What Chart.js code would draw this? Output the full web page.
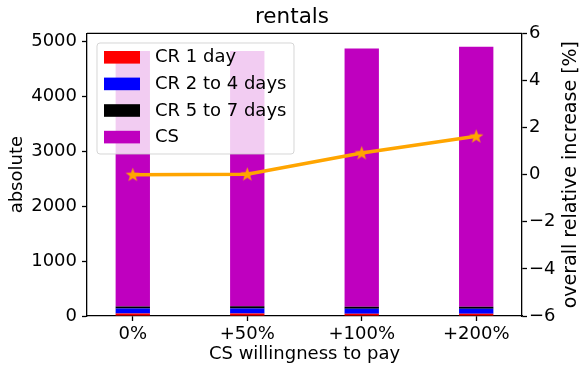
<!DOCTYPE html>
<html><head><meta charset="utf-8">
<script src="https://cdn.jsdelivr.net/npm/chart.js@4.4.1/dist/chart.umd.min.js"></script>
<style>html,body{margin:0;padding:0;background:#fff}#wrap{width:584px;height:366px}</style>
</head><body><div id="wrap"><canvas id="c" width="584" height="366"></canvas></div>
<script>
// ---- data ----
const categories = ['0%', '+50%', '+100%', '+200%'];
const cr1Day = [45, 45, 42, 42];
const cr2to4Days = [90, 92, 90, 90];
const cr5to7Days = [38, 40, 36, 38];
const csRentals = [4657, 4655, 4707, 4739];
const relativeIncrease = [0.0, 0.02, 0.92, 1.63];
const leftTicks = [0, 1000, 2000, 3000, 4000, 5000];
const rightTicks = [-6, -4, -2, 0, 2, 4, 6];
const seriesLabels = ['CR 1 day', 'CR 2 to 4 days', 'CR 5 to 7 days', 'CS'];

const F = 'DejaVu Sans';
const COLORS = ['#ff0000', '#0000ff', '#000000', '#bf00bf'];

function xy(arr) { return arr.map((v, i) => ({ x: i, y: v })); }

function makeStar(r, color) {
  const s = Math.ceil(r * 2 + 2);
  const c = document.createElement('canvas');
  c.width = s; c.height = s;
  const g = c.getContext('2d');
  g.translate(s / 2, s / 2 + 0.5);
  g.beginPath();
  for (let i = 0; i < 10; i++) {
    const rad = i % 2 === 0 ? r : r * 0.4;
    const a = -Math.PI / 2 + i * Math.PI / 5;
    g.lineTo(rad * Math.cos(a), rad * Math.sin(a));
  }
  g.closePath();
  g.fillStyle = color; g.fill();
  return c;
}
const star = makeStar(7.5, '#ffa500');

const axisBase = () => ({
  border: { display: true, color: '#000', width: 1.3 },
  grid: { display: true, offset: false, drawOnChartArea: false, drawTicks: true, tickLength: 5, tickColor: '#000', tickWidth: 1.3 },
  ticks: { color: '#000', font: { family: F, size: 18 } }
});

const frameAndLegend = {
  id: 'frameAndLegend',
  afterDraw(chart) {
    const ctx = chart.ctx, a = chart.chartArea;
    ctx.save();
    ctx.strokeStyle = '#000'; ctx.lineWidth = 1.3;
    ctx.beginPath(); ctx.moveTo(a.left, a.top); ctx.lineTo(a.right, a.top); ctx.stroke();
    ctx.fillStyle = '#000';
    ctx.font = '19px "' + F + '"';
    ctx.textAlign = 'center'; ctx.textBaseline = 'middle';
    ctx.translate(571, (a.top + a.bottom) / 2);
    ctx.rotate(-Math.PI / 2);
    ctx.fillText('overall relative increase [%]', 0, 0);
    ctx.restore();

    ctx.save();
    const lx = 97, ly = 43, lw = 197, lh = 111, r = 3;
    ctx.beginPath();
    ctx.moveTo(lx + r, ly);
    ctx.arcTo(lx + lw, ly, lx + lw, ly + lh, r);
    ctx.arcTo(lx + lw, ly + lh, lx, ly + lh, r);
    ctx.arcTo(lx, ly + lh, lx, ly, r);
    ctx.arcTo(lx, ly, lx + lw, ly, r);
    ctx.closePath();
    ctx.fillStyle = 'rgba(255,255,255,0.8)';
    ctx.fill();
    ctx.strokeStyle = 'rgba(204,204,204,0.8)'; ctx.lineWidth = 1;
    ctx.stroke();
    ctx.font = '18px "' + F + '"';
    ctx.textAlign = 'left'; ctx.textBaseline = 'middle';
    seriesLabels.forEach((lab, i) => {
      const cy = 57.3 + i * 26.6;
      ctx.fillStyle = COLORS[i];
      ctx.fillRect(104, cy - 6.3, 36, 12.6);
      ctx.fillStyle = '#000';
      ctx.fillText(lab, 155, cy + 0.5);
    });
    ctx.restore();
  }
};

const barValues = [cr1Day, cr2to4Days, cr5to7Days, csRentals];
const minus = v => (v < 0 ? '\u2212' + Math.abs(v) : String(v));

new Chart(document.getElementById('c'), {
  type: 'bar',
  data: {
    datasets: [
      {
        type: 'line', label: 'overall relative increase', data: xy(relativeIncrease), yAxisID: 'y2',
        borderColor: '#ffa500', backgroundColor: '#ffa500', borderWidth: 3.5,
        pointStyle: star, pointRadius: 7, tension: 0, order: 0
      },
      ...barValues.map((vals, i) => ({
        label: seriesLabels[i], data: xy(vals), backgroundColor: COLORS[i], borderWidth: 0,
        barPercentage: 0.3, categoryPercentage: 1, yAxisID: 'y', order: 1
      }))
    ]
  },
  options: {
    responsive: false, animation: false,
    layout: { padding: 0 },
    plugins: {
      legend: { display: false }, tooltip: { enabled: false },
      title: { display: true, text: 'rentals', color: '#000', font: { family: F, size: 21.5, weight: 'normal' }, padding: { top: 4.5, bottom: 3 } }
    },
    scales: {
      x: (() => { const b = axisBase(); b.ticks.padding = 3; b.ticks.callback = v => (categories[v] !== undefined ? categories[v] : ''); return Object.assign(b, {
        type: 'linear', min: -0.4, max: 3.4, stacked: true, offset: false,
        afterBuildTicks: s => { s.ticks = categories.map((_, i) => ({ value: i })); },
        afterFit: s => { s.height = 50; },
        title: { display: true, text: 'CS willingness to pay', color: '#000', font: { family: F, size: 18 }, padding: { top: 0, bottom: 0.5 } }
      }); })(),
      y: (() => { const b = axisBase(); b.ticks.padding = 5; b.ticks.callback = v => String(v); return Object.assign(b, {
        position: 'left', stacked: true, min: 0, max: 5154,
        afterBuildTicks: s => { s.ticks = leftTicks.map(v => ({ value: v })); },
        afterFit: s => { s.width = 87; },
        title: { display: true, text: 'absolute', color: '#000', font: { family: F, size: 18 }, padding: { top: 7, bottom: 0 } }
      }); })(),
      y2: (() => { const b = axisBase(); b.ticks.padding = 2; b.ticks.callback = v => minus(v); return Object.assign(b, {
        position: 'right', min: -6, max: 6,
        afterBuildTicks: s => { s.ticks = rightTicks.map(v => ({ value: v })); },
        afterFit: s => { s.width = 62; }
      }); })()
    }
  },
  plugins: [frameAndLegend]
});
</script>
</body></html>
